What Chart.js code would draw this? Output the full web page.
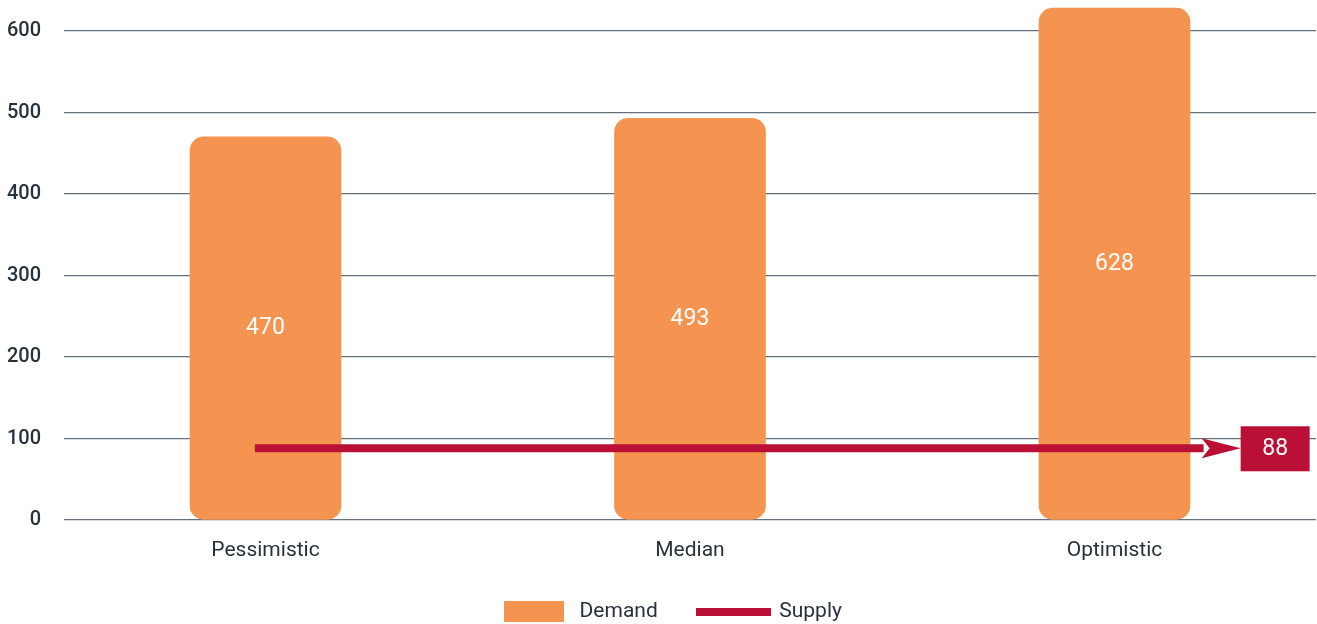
<!DOCTYPE html>
<html>
<head>
<meta charset="utf-8">
<script src="https://cdn.jsdelivr.net/npm/chart.js@4.4.1/dist/chart.umd.min.js"></script>
<style>
  html, body { margin: 0; padding: 0; background: #fff; }
  #wrap { width: 1317px; height: 624px; }
</style>
</head>
<body>
<div id="wrap"><canvas id="scenarios"></canvas></div>
<script>
const scenarios = ["Pessimistic", "Median", "Optimistic"];
const demand = [470, 493, 628];
const supply = [88];
const yTicks = [0, 100, 200, 300, 400, 500, 600];

const ORANGE = "#f49450";
const RED = "#ba1035";
const TEXT = "#28323c";
const FONT = "Roboto";

// supply runs across all scenarios, from just left of the first bar to past the last one
const supplyFrom = -0.025;
const supplyTo = 2.21;

// legend swatches: a block for demand, a thick bar for supply
function swatch(w, h, color) {
  const c = document.createElement("canvas");
  c.width = w;
  c.height = h;
  const g = c.getContext("2d");
  g.fillStyle = color;
  g.fillRect(0, 0, w, h);
  return c;
}
const demandSwatch = swatch(60, 21, ORANGE);
const supplySwatch = swatch(75, 8, RED);

// white figure in the middle of each bar
const barValues = {
  id: "barValues",
  afterDatasetsDraw(chart) {
    const ctx = chart.ctx;
    const meta = chart.getDatasetMeta(0);
    ctx.save();
    ctx.font = "23px " + FONT;
    ctx.fillStyle = "#fff";
    ctx.textAlign = "center";
    ctx.textBaseline = "middle";
    meta.data.forEach((bar, i) => {
      ctx.fillText(demand[i], bar.x, (bar.y + bar.base) / 2);
    });
    ctx.restore();
  },
};

// arrow head at the end of the supply line plus the value box
const supplyArrow = {
  id: "supplyArrow",
  afterDatasetsDraw(chart) {
    const ctx = chart.ctx;
    const meta = chart.getDatasetMeta(1);
    const end = meta.data[meta.data.length - 1];
    const x = end.x, y = end.y;
    const tip = x + 37;
    ctx.save();
    ctx.fillStyle = RED;
    ctx.beginPath();
    ctx.moveTo(x - 2, y - 10);
    ctx.lineTo(tip, y);
    ctx.lineTo(x - 2, y + 10);
    ctx.lineTo(x + 6, y);
    ctx.closePath();
    ctx.fill();
    ctx.fillRect(tip, y - 22, 69, 45);
    ctx.font = "23px " + FONT;
    ctx.fillStyle = "#fff";
    ctx.textAlign = "center";
    ctx.textBaseline = "middle";
    ctx.fillText(supply[0], tip + 34.5, y + 1);
    ctx.restore();
  },
};

// centre the legend under the plot area rather than the whole canvas
const legendShift = {
  id: "legendShift",
  afterLayout(chart) {
    chart.legend.left += 12;
    chart.legend.right += 12;
  },
};

new Chart(document.getElementById("scenarios"), {
  type: "bar",
  data: {
    datasets: [
      {
        label: "Demand",
        data: demand.map((v, i) => ({ x: i, y: v })),
        backgroundColor: ORANGE,
        borderRadius: 14,
        borderSkipped: false,
        barThickness: 151,
        clip: false,
        order: 2,
      },
      {
        type: "line",
        label: "Supply",
        data: [
          { x: supplyFrom, y: supply[0] },
          { x: supplyTo, y: supply[0] },
        ],
        borderColor: RED,
        backgroundColor: RED,
        borderWidth: 8,
        pointRadius: 0,
        order: 1,
      },
    ],
  },
  options: {
    responsive: true,
    maintainAspectRatio: false,
    animation: false,
    layout: { padding: { top: 31, left: 0, right: 1, bottom: -8 } },
    scales: {
      x: {
        type: "linear",
        offset: false,
        min: -0.4747,
        max: 2.4747,
        afterBuildTicks: (scale) => {
          scale.ticks = scenarios.map((_, i) => ({ value: i }));
        },
        afterFit: (scale) => {
          scale.height = 41;
        },
        ticks: {
          callback: (v) => scenarios[v],
          color: TEXT,
          font: { family: FONT, size: 21 },
          padding: 18,
          maxRotation: 0,
        },
        grid: { display: false, drawTicks: false },
        border: { display: false },
      },
      y: {
        min: 0,
        max: 600,
        afterBuildTicks: (scale) => {
          scale.ticks = yTicks.map((v) => ({ value: v }));
        },
        afterFit: (scale) => {
          scale.width = 64;
          scale.paddingTop = 0;
          scale.paddingBottom = 0;
        },
        ticks: {
          color: TEXT,
          font: { family: FONT, size: 20, weight: 500 },
          padding: 23,
        },
        grid: { color: "#66717e", lineWidth: 1.3, drawTicks: false },
        border: { display: false },
      },
    },
    plugins: {
      tooltip: { enabled: false },
      legend: {
        position: "bottom",
        labels: {
          usePointStyle: true,
          pointStyleWidth: 71,
          boxHeight: 21,
          padding: 40,
          color: TEXT,
          font: { family: FONT, size: 21 },
          sort: (a, b) => a.datasetIndex - b.datasetIndex,
          generateLabels: (chart) => {
            const items = Chart.defaults.plugins.legend.labels.generateLabels(chart);
            items.forEach((item) => {
              item.pointStyle = item.datasetIndex === 0 ? demandSwatch : supplySwatch;
            });
            return items;
          },
        },
      },
    },
  },
  plugins: [barValues, supplyArrow, legendShift],
});
</script>
</body>
</html>
